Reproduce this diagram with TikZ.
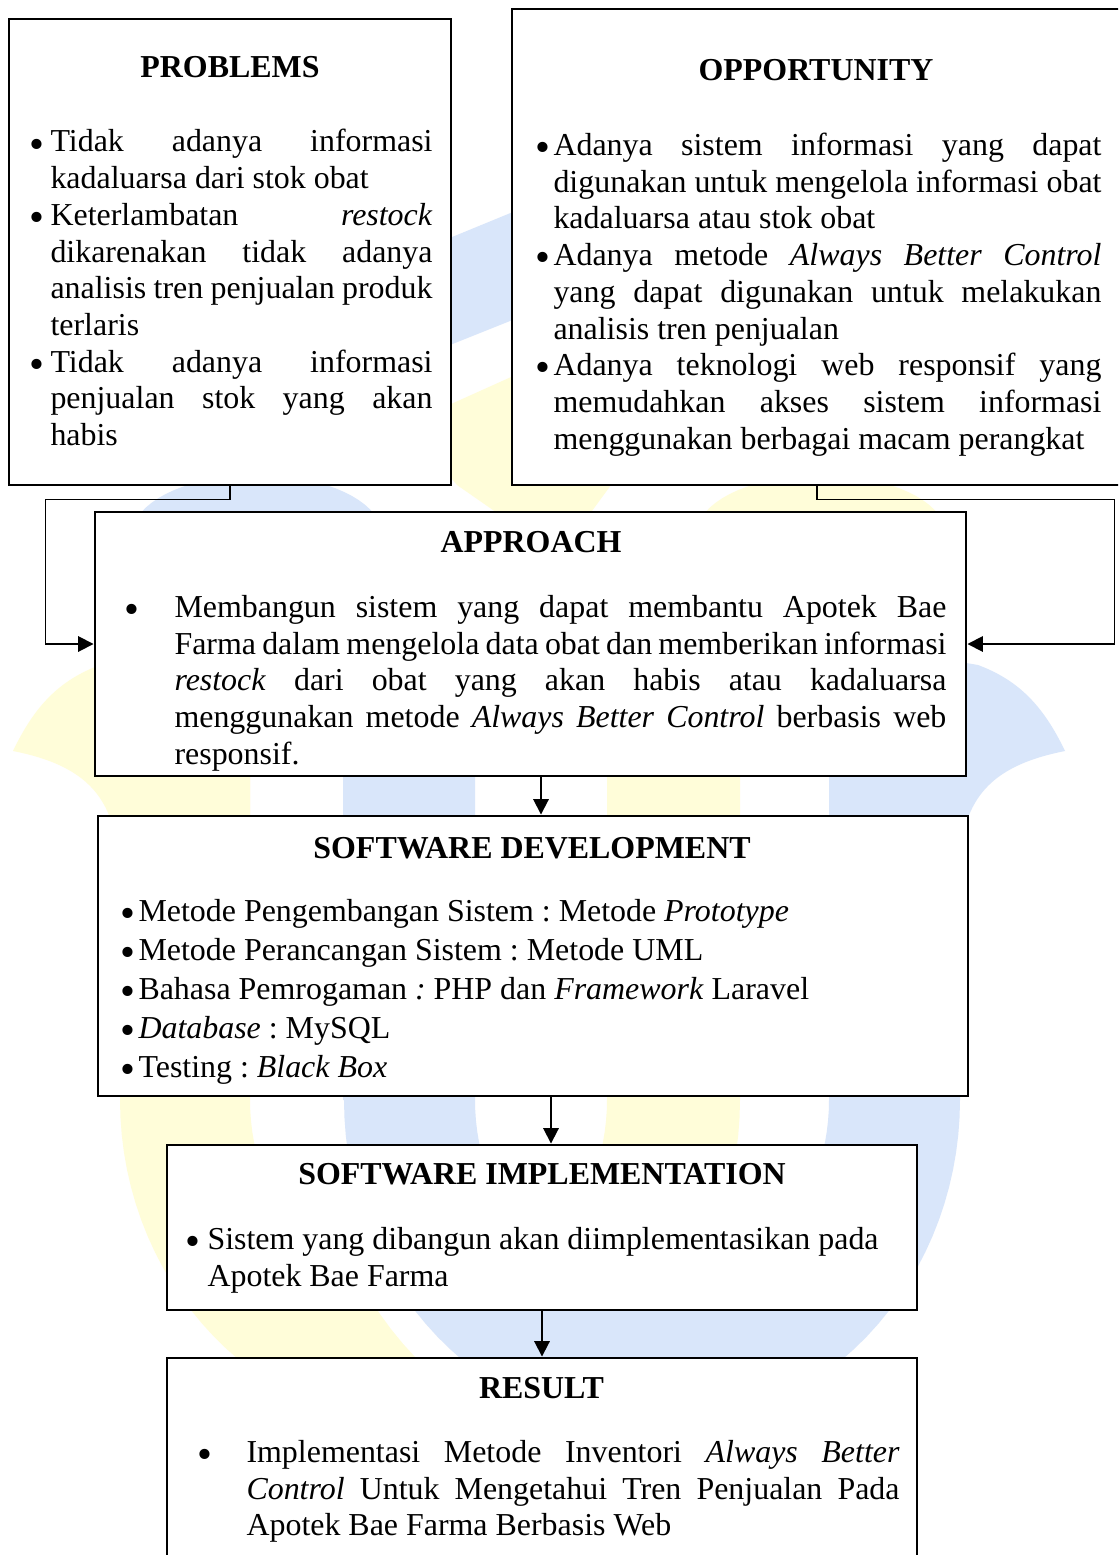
\documentclass[tikz,border=0pt]{standalone}
\usepackage{fontspec}
\setmainfont{Liberation Serif}
\usetikzlibrary{arrows.meta,fit,calc}
\definecolor{wmY}{RGB}{255,253,217}
\definecolor{wmB}{RGB}{217,230,250}
\newcommand{\bul}[1]{\noindent\llap{\raisebox{-2.3pt}{\fontsize{16}{16}\selectfont\textbullet}\hspace{#1}}}
\newcommand{\parset}{\tolerance=10000\hyphenpenalty=10000\exhyphenpenalty=10000\frenchspacing\spaceskip=0pt\xspaceskip=0pt\relax}
\tikzset{
  box/.style={draw, line width=1.1pt, fill=white, inner sep=0pt},
  ttl/.style={inner sep=0pt, anchor=base, font=\fontsize{12}{13.8}\selectfont\bfseries},
  txt/.style={inner sep=0pt, anchor=base west, align=justify, font=\fontsize{12}{13.8}\selectfont},
  conn/.style={line width=0.7pt},
  arr/.style={conn, -{Triangle[length=5.8pt,width=5.8pt]}},
}
\begin{document}
\begin{tikzpicture}[x=0.37594pt, y=-0.37594pt]
\useasboundingbox (0,0) rectangle (1118,1555);
\clip (0,0) rectangle (1118,1555);
\fill[white] (0,0) rectangle (1118,1555);

% ---- watermark ----
\fill[wmY] (120,600) -- (120,1100) -- plot[domain=180:0,samples=60] ({430+310*cos(\x)},{1100+330*sin(\x)}) -- (740,600) -- (607,600) -- plot[domain=0:180,samples=60] ({428.5+178.5*cos(\x)},{1100+200*sin(\x)}) -- (250,600) -- cycle;
\fill[wmY] (120,900) .. controls (120,820) and (110,770) .. (13,751) .. controls (35,705) and (60,680) .. (100,665) -- (250,640) -- (250,900) -- cycle;
\fill[wmY] plot[domain=0:360,samples=72] ({821+125*cos(\x)},{535+60*sin(\x)}) -- cycle;
\fill[wmY] (440,409) -- (560,355) -- (640,430) -- (611,485) -- (559,556) -- (457,485) -- (440,465) -- cycle;
\fill[wmB, preaction={draw=white, line width=22.6pt}] (343,600) -- (343,1100) -- plot[domain=180:0,samples=60] ({652+308*cos(\x)},{1100+330*sin(\x)}) -- (960,600) -- (829,600) -- plot[domain=0:180,samples=60] ({652+177*cos(\x)},{1100+200*sin(\x)}) -- (475,600) -- cycle;
\fill[wmB] (958,900) .. controls (958,820) and (968,770) .. (1065,751) .. controls (1043,705) and (1018,680) .. (978,665) -- (829,640) -- (829,900) -- cycle;
\fill[wmB] plot[domain=0:360,samples=72] ({257+125*cos(\x)},{535+60*sin(\x)}) -- cycle;
\fill[wmB] (440,242) -- (530,205) -- (530,313) -- (440,349) -- cycle;

% ---- boxes ----
\node[box, fit={(9,19)(451,485)}] (P) {};
\node[box, fit={(512,9)(1122,485)}] (O) {};
\node[box, fit={(95,512)(966,776)}] (A) {};
\node[box, fit={(98,816)(968,1096)}] (D) {};
\node[box, fit={(167,1145)(917,1310)}] (I) {};
\node[box, fit={(167,1358)(917,1575)}] (R) {};

% ---- titles ----
\node[ttl] (Ph) at (230,77.5) {PROBLEMS};
\node[ttl] (Oh) at (816,81) {OPPORTUNITY};
\node[ttl] (Ah) at (531,552.5) {APPROACH};
\node[ttl] (Dh) at (532,858.5) {SOFTWARE DEVELOPMENT};
\node[ttl] (Ih) at (542,1184.5) {SOFTWARE IMPLEMENTATION};
\node[ttl] (Rh) at (541.5,1398.5) {RESULT};

% ---- texts ----
\node[txt, text width=143.6pt] (Pt) at (50,152) {\parset
\bul{2.4pt}Tidak adanya informasi\linebreak kadaluarsa dari stok obat\par
\bul{2.4pt}Keterlambatan \textit{restock}\linebreak dikarenakan tidak adanya\linebreak analisis tren penjualan produk\linebreak terlaris\par
\bul{2.4pt}Tidak adanya informasi\linebreak penjualan stok yang akan\linebreak habis};

\node[txt, text width=206pt] (Ot) at (553,155.5) {\parset
\bul{1.3pt}Adanya sistem informasi yang dapat\linebreak digunakan untuk mengelola informasi obat\linebreak kadaluarsa atau stok obat\par
\bul{1.3pt}Adanya metode \textit{Always Better Control}\linebreak yang dapat digunakan untuk melakukan\linebreak analisis tren penjualan\par
\bul{1.3pt}Adanya teknologi web responsif yang\linebreak memudahkan akses sistem informasi\linebreak menggunakan berbagai macam perangkat};

\node[txt, text width=290.2pt] (At) at (174,617.5) {\parset
\bul{13.2pt}Membangun sistem yang dapat membantu Apotek Bae\linebreak Farma dalam mengelola data obat dan memberikan informasi\linebreak \textit{restock} dari obat yang akan habis atau kadaluarsa\linebreak menggunakan metode \textit{Always Better Control} berbasis web\linebreak responsif.};

\node[txt, align=left, text width=320pt, font=\fontsize{12}{14.66}\selectfont] (Dt) at (138,921.5) {\parset
\bul{1.2pt}Metode Pengembangan Sistem : Metode \textit{Prototype}\par
\bul{1.2pt}Metode Perancangan Sistem : Metode UML\par
\bul{1.2pt}Bahasa Pemrogaman \textit{:} PHP dan \textit{Framework} Laravel\par
\bul{1.2pt}\textit{Database} : MySQL\par
\bul{1.2pt}Testing : \textit{Black Box}};

\node[txt, align=left, text width=280pt] (It) at (207,1249.5) {\parset\bul{2.6pt}Sistem yang dibangun akan diimplementasikan pada\\Apotek Bae Farma};

\node[txt, text width=245.5pt] (Rt) at (246,1462.5) {\parset
\bul{12.8pt}Implementasi Metode Inventori \textit{Always Better}\linebreak \textit{Control} Untuk Mengetahui Tren Penjualan Pada\linebreak Apotek Bae Farma Berbasis Web};

% ---- connectors ----
\coordinate (x1) at (541,0);
\coordinate (x2) at (551,0);
\draw[arr] (P.south) -- ++(0,13) -| ($(A.west)+(-48,0)$) -- (A.west);
\draw[arr] (O.south) -- ++(0,13) -| ($(A.east)+(147,0)$) -- (A.east);
\draw[arr] (A.south -| x1) -- (D.north -| x1);
\draw[arr] (D.south -| x2) -- (I.north -| x2);
\draw[arr] (I.south) -- (R.north);
\end{tikzpicture}
\end{document}
